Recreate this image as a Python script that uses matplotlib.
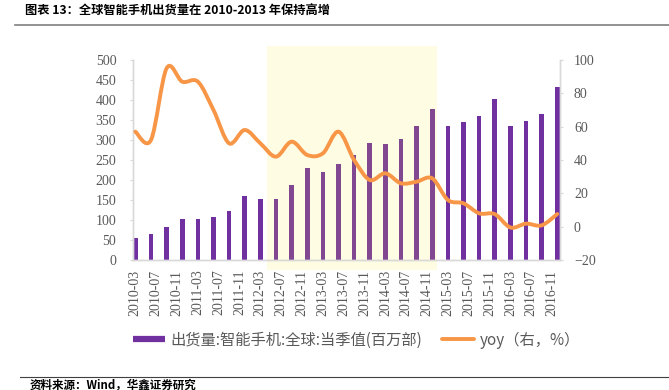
import matplotlib
matplotlib.use('Agg')
import matplotlib.pyplot as plt
from matplotlib.path import Path
from matplotlib.patches import PathPatch, Rectangle
from matplotlib.lines import Line2D
from matplotlib.font_manager import FontProperties

# ---------------- data ----------------
quarters = ['2010-03', '2010-06', '2010-09', '2010-12',
            '2011-03', '2011-06', '2011-09', '2011-12',
            '2012-03', '2012-06', '2012-09', '2012-12',
            '2013-03', '2013-06', '2013-09', '2013-12',
            '2014-03', '2014-06', '2014-09', '2014-12',
            '2015-03', '2015-06', '2015-09', '2015-12',
            '2016-03', '2016-06', '2016-09', '2016-12']
shipments = [54, 64, 82, 102, 102, 108, 123, 161,
             152, 153, 187, 230, 219, 241, 262, 293,
             289, 302, 334, 377, 336, 344, 360, 402,
             334, 348, 365, 432]
yoy = [57, 52, 95, 87, 87, 70, 50, 58,
       50, 42, 51, 43, 44, 57, 40, 28,
       32, 26, 27, 29, 16, 14, 8, 7.5,
       -0.5, 1.8, 0.8, 7.6]
tick_labels = ['2010-03', '2010-07', '2010-11', '2011-03', '2011-07', '2011-11',
               '2012-03', '2012-07', '2012-11', '2013-03', '2013-07', '2013-11',
               '2014-03', '2014-07', '2014-11', '2015-03', '2015-07', '2015-11',
               '2016-03', '2016-07', '2016-11']
left_ticks = [0, 50, 100, 150, 200, 250, 300, 350, 400, 450, 500]
right_ticks = [-20, 0, 20, 40, 60, 80, 100]
bar_label = '出货量:智能手机:全球:当季值(百万部)'
line_label = 'yoy（右，%）'
title = '图表 13：全球智能手机出货量在 2010-2013 年保持高增'
source = '资料来源：Wind，华鑫证券研究'


def month_index(s):
    y, m = s.split('-')
    return (int(y) - 2010) * 12 + int(m) - 3


xq = [month_index(q) for q in quarters]
xt = [month_index(t) for t in tick_labels]

plt.rcParams['font.family'] = ['Liberation Serif', 'DejaVu Sans']
cjk = ['Noto Sans CJK SC', 'DejaVu Sans']

W, H = 669, 390
fig = plt.figure(figsize=(W / 100, H / 100), dpi=100)
ax = fig.add_axes([133 / W, 130 / H, 427 / W, 200 / H])
ax.patch.set_visible(False)

purple = '#7030A0'
orange = '#F79646'
gray_txt = '#595959'
spine_c = '#D9D9D9'

ax.bar(xq, shipments, width=0.9, color=purple, zorder=2)
ax.set_xlim(-0.45, 81.52)
ax.set_ylim(0, 500)
ax.set_yticks(left_ticks)
ax.set_xticks(xt)
ax.set_xticklabels(tick_labels)

ax2 = ax.twinx()
ax2.patch.set_visible(False)
ax2.set_ylim(-20, 100)
ax2.set_yticks(right_ticks)

# highlight band (drawn above bars, below the line)
band = Rectangle((267 / W, 120 / H), 170 / W, 224 / H, transform=fig.transFigure,
                 facecolor=(1.0, 0.933, 0.157), alpha=0.12, edgecolor='none',
                 zorder=0, clip_on=False)
ax2.add_patch(band)

# smoothed line (Bezier through the data points)
pts = list(zip(xq, yoy))
verts = [pts[0]]
codes = [Path.MOVETO]
n = len(pts)
for i in range(n - 1):
    p0 = pts[i - 1] if i > 0 else pts[i]
    p1 = pts[i]
    p2 = pts[i + 1]
    p3 = pts[i + 2] if i + 2 < n else pts[i + 1]
    c1 = (p1[0] + (p2[0] - p0[0]) / 6, p1[1] + (p2[1] - p0[1]) / 6)
    c2 = (p2[0] - (p3[0] - p1[0]) / 6, p2[1] - (p3[1] - p1[1]) / 6)
    verts += [c1, c2, p2]
    codes += [Path.CURVE4] * 3
ax2.add_patch(PathPatch(Path(verts, codes), facecolor='none', edgecolor=orange,
                        lw=2.8, capstyle='round', joinstyle='round', zorder=3))
ax2.set_xlim(-0.45, 81.52)
ax2.set_ylim(-20, 100)

for a in (ax, ax2):
    a.spines['top'].set_visible(False)
    for s in ('left', 'right', 'bottom'):
        a.spines[s].set_color(spine_c)
        a.spines[s].set_linewidth(1.0)

ax.tick_params(axis='y', length=2, color=spine_c, pad=10, labelcolor=gray_txt, labelsize=10)
ax.tick_params(axis='x', length=0, pad=7, labelcolor=gray_txt, labelsize=10, labelrotation=90)
ax2.tick_params(axis='y', length=2, color=spine_c, pad=8, labelcolor=gray_txt, labelsize=10)

# legend
handles = [Line2D([], [], color=purple, lw=4.5, solid_capstyle='butt'),
           Line2D([], [], color=orange, lw=2.8, solid_capstyle='round')]
fig.legend(handles, [bar_label, line_label], loc='center left',
           bbox_to_anchor=(133 / W, 50 / H), ncol=2, frameon=False,
           prop=FontProperties(family=cjk, size=11), labelcolor=gray_txt,
           handlelength=2.1, handletextpad=0.35, columnspacing=1.3,
           borderaxespad=0, borderpad=0)

# title, rules, source
fig.text(25 / W, 1 - 5 / H, title, ha='left', va='top', fontsize=8.8,
         fontweight='bold', family=cjk, color='black')
fig.add_artist(Line2D([15 / W, 1], [1 - 25 / H] * 2, transform=fig.transFigure,
                      color='#7F7F7F', lw=1.2))
fig.add_artist(Line2D([20 / W, 1], [13 / H] * 2, transform=fig.transFigure,
                      color='#404040', lw=0.8))
fig.text(30 / W, 1 - 378.5 / H, source, ha='left', va='top', fontsize=8.3,
         fontweight='bold', family=cjk, color='black')

fig.savefig('out.png', dpi=100)
